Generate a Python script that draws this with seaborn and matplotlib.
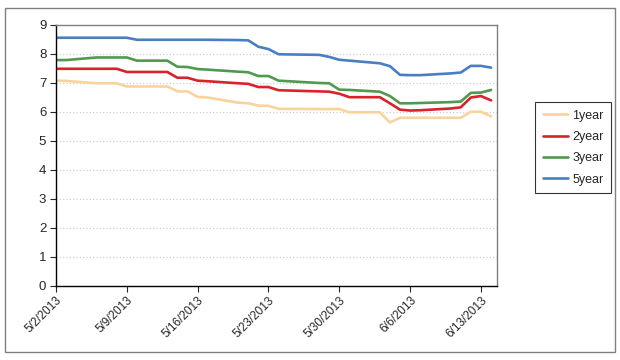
import pandas as pd
import numpy as np
import matplotlib
matplotlib.use("Agg")
import matplotlib.pyplot as plt
import matplotlib.dates as mdates
from matplotlib.patches import Rectangle
import seaborn as sns

# business days, 5/2/2013 - 6/14/2013
dates = ["2013-05-02", "2013-05-03", "2013-05-06", "2013-05-07", "2013-05-08",
         "2013-05-09", "2013-05-10", "2013-05-13", "2013-05-14", "2013-05-15",
         "2013-05-16", "2013-05-17", "2013-05-20", "2013-05-21", "2013-05-22",
         "2013-05-23", "2013-05-24", "2013-05-28", "2013-05-29", "2013-05-30",
         "2013-05-31", "2013-06-03", "2013-06-04", "2013-06-05", "2013-06-06",
         "2013-06-07", "2013-06-10", "2013-06-11", "2013-06-12", "2013-06-13",
         "2013-06-14"]

year1 = [7.08, 7.07, 6.99, 6.99, 6.99, 6.88, 6.88, 6.88, 6.71, 6.71,
         6.52, 6.50, 6.32, 6.30, 6.22, 6.21, 6.11, 6.10, 6.10, 6.10,
         5.99, 5.99, 5.64, 5.80, 5.80, 5.80, 5.80, 5.80, 6.01, 6.01, 5.85]
year2 = [7.49, 7.49, 7.49, 7.49, 7.49, 7.38, 7.38, 7.38, 7.18, 7.18,
         7.08, 7.06, 6.99, 6.97, 6.86, 6.86, 6.75, 6.71, 6.70, 6.63,
         6.51, 6.51, 6.30, 6.08, 6.05, 6.06, 6.12, 6.16, 6.50, 6.55, 6.40]
year3 = [7.79, 7.79, 7.88, 7.88, 7.88, 7.88, 7.77, 7.77, 7.56, 7.55,
         7.48, 7.46, 7.39, 7.37, 7.24, 7.24, 7.08, 7.00, 6.99, 6.77,
         6.76, 6.70, 6.55, 6.30, 6.30, 6.31, 6.34, 6.36, 6.66, 6.67, 6.76]
year5 = [8.56, 8.56, 8.56, 8.56, 8.56, 8.56, 8.49, 8.49, 8.49, 8.49,
         8.49, 8.49, 8.48, 8.47, 8.25, 8.17, 7.99, 7.97, 7.90, 7.80,
         7.77, 7.68, 7.58, 7.28, 7.27, 7.27, 7.33, 7.36, 7.59, 7.59, 7.53]

series_names = ["1year", "2year", "3year", "5year"]
colors = ["#F8D49C", "#D8232A", "#4F9A4F", "#4A7EC2"]
tick_dates = ["2013-05-02", "2013-05-09", "2013-05-16", "2013-05-23",
              "2013-05-30", "2013-06-06", "2013-06-13"]

df = pd.DataFrame({"date": pd.to_datetime(dates), "1year": year1,
                   "2year": year2, "3year": year3, "5year": year5})
long_df = df.melt(id_vars="date", var_name="series", value_name="rate")

sns.set_theme(style="white")
plt.rcParams["font.family"] = ["Liberation Sans", "DejaVu Sans"]

fig = plt.figure(figsize=(6.2, 3.6), dpi=100)
ax = fig.add_axes([0.0903, 0.2056, 0.7113, 0.725])

sns.lineplot(data=long_df, x="date", y="rate", hue="series",
             hue_order=series_names, palette=colors, linewidth=1.9, ax=ax)

ax.set_ylim(0, 9)
ax.set_yticks(range(0, 10))
ax.set_xlim(pd.Timestamp("2013-05-02"), pd.Timestamp("2013-06-14") + pd.Timedelta(hours=14))
ticks = pd.to_datetime(tick_dates)
ax.set_xticks(ticks)
ax.set_xticklabels([f"{d.month}/{d.day}/{d.year}" for d in ticks],
                   rotation=45, ha="right", rotation_mode="anchor", fontsize=8.5)
ax.tick_params(axis="y", labelsize=9.5, length=4, width=0.8, direction="out", left=True, pad=3)
ax.tick_params(axis="x", length=4, width=0.8, direction="out", bottom=True, pad=2)
ax.set_xlabel("")
ax.set_ylabel("")

for y in range(1, 9):
    ax.axhline(y, color="#c8c8c8", linestyle=(0, (1, 2)), linewidth=0.8, zorder=0)

ax.spines["left"].set_color("black")
ax.spines["bottom"].set_color("black")
ax.spines["top"].set_color("#808080")
ax.spines["right"].set_color("#808080")
for s in ax.spines.values():
    s.set_linewidth(1.0)

leg = ax.legend(loc="upper left", bbox_to_anchor=(535 / 620, 1 - 102 / 360),
                bbox_transform=fig.transFigure, frameon=True, fancybox=False,
                edgecolor="black", fontsize=9, handlelength=2.0,
                handletextpad=0.4, labelspacing=0.75, borderpad=0.6,
                borderaxespad=0, title=None)
leg.get_frame().set_linewidth(0.8)

fig.patches.append(Rectangle((5 / 620, 8 / 360), 610 / 620, 344 / 360,
                             transform=fig.transFigure, fill=False,
                             edgecolor="#808080", linewidth=1.0))

fig.savefig("out.png", dpi=100)
